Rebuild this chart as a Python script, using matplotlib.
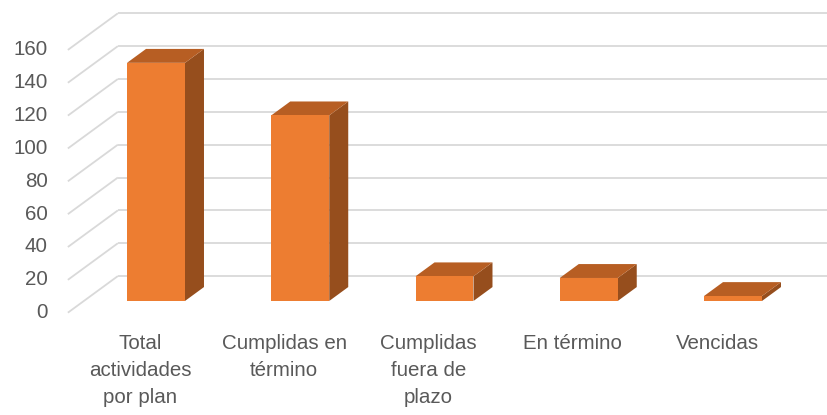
import matplotlib.pyplot as plt

categorias = ["Total\nactividades\npor plan", "Cumplidas en\ntérmino",
              "Cumplidas\nfuera de\nplazo", "En término", "Vencidas"]
valores = [145, 113, 15, 14, 3]
ticks_y = [0, 20, 40, 60, 80, 100, 120, 140, 160]

plt.rcParams['font.family'] = ['Liberation Sans', 'DejaVu Sans']

fig = plt.figure(figsize=(8.28, 4.15), dpi=100)
ax = fig.add_axes([0, 0, 1, 1])
ax.set_xlim(-0.9705, 4.7695)
ax.set_ylim(-62.3, 190.4)
ax.axis('off')

# oblique depth (full floor depth) in data units
Dx, Dy = 0.3466, 22.3
n = len(categorias)
x0 = -0.5
x1 = n - 0.5
gris = '#d9d9d9'
texto = '#595959'

# walls gridlines
for v in ticks_y:
    ax.plot([x0, x0 + Dx], [v, v + Dy], color=gris, lw=1.3, zorder=1,
            solid_capstyle='butt')
    ax.plot([x0 + Dx, x1 + Dx], [v + Dy, v + Dy], color=gris, lw=1.3,
            zorder=1, solid_capstyle='butt')
    ax.text(x0 - 0.138, v, str(v), ha='right', va='center', fontsize=14.8,
            color=texto)

# bars
ancho = 0.402
f1, f2 = 0.32, 0.70
sx, sy = f1 * Dx, f1 * Dy
px, py = (f2 - f1) * Dx, (f2 - f1) * Dy
frente = '#ed7d31'
arriba = '#b75e23'
lado = '#964e1d'
for i, v in enumerate(valores):
    xl = i - ancho / 2 + sx
    xr = i + ancho / 2 + sx
    yb = sy
    yt = v + sy
    ax.fill([xr, xr + px, xr + px, xr], [yb, yb + py, yt + py, yt],
            color=lado, lw=0, zorder=3)
    ax.fill([xl, xr, xr + px, xl + px], [yt, yt, yt + py, yt + py],
            color=arriba, lw=0, zorder=3)
ax.bar([i + sx for i in range(n)], valores, bottom=sy, width=ancho,
       color=frente, lw=0, zorder=4)

for i, c in enumerate(categorias):
    ax.text(i, -13.0, c, ha='center', va='top', fontsize=14.8, color=texto,
            linespacing=1.52)

fig.savefig('out.png', dpi=100)
